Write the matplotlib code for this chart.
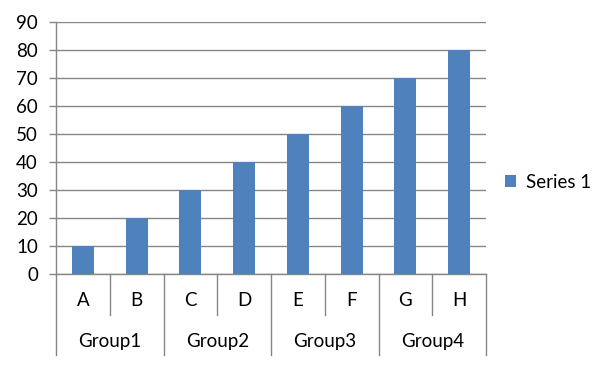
import matplotlib
matplotlib.use("Agg")
import matplotlib.pyplot as plt
import matplotlib.transforms as mtransforms

categories = ["A", "B", "C", "D", "E", "F", "G", "H"]
groups = ["Group1", "Group2", "Group3", "Group4"]
values = [10, 20, 30, 40, 50, 60, 70, 80]
series_name = "Series 1"
yticks = [0, 10, 20, 30, 40, 50, 60, 70, 80, 90]

plt.rcParams['font.family'] = ['Lato', 'DejaVu Sans']
FS = 13.5
fig = plt.figure(figsize=(6.02, 3.72), dpi=100)
W, H = 602, 372
left, right, top, bottom = 56, 486, 22, 274
ax = fig.add_axes([left / W, 1 - bottom / H, (right - left) / W, (bottom - top) / H])

grid_c = "#868686"
bar_c = "#4F81BD"
x = list(range(len(categories)))
ax.bar(x, values, width=0.41, color=bar_c, label=series_name, zorder=3)
ax.set_xlim(-0.5, len(categories) - 0.5)
ax.set_ylim(0, 90)
ax.set_yticks(yticks)
ax.set_yticklabels([str(v) for v in yticks], fontsize=FS)
ax.yaxis.grid(True, color=grid_c, linewidth=1, zorder=0)
ax.tick_params(axis='y', length=5, width=1, color=grid_c, pad=8)
ax.set_xticks([])
for s in ["top", "right"]:
    ax.spines[s].set_visible(False)
ax.spines["left"].set_visible(False)
ax.spines["bottom"].set_color(grid_c)
ax.spines["bottom"].set_linewidth(1)

trans = mtransforms.blended_transform_factory(ax.transData, ax.transAxes)
ph = bottom - top
inner_y = -(315 - bottom) / ph
outer_y = -(355 - bottom) / ph
ax.plot([-0.5, -0.5], [1, outer_y], transform=trans, color=grid_c, lw=1, clip_on=False, zorder=4)
n_per = len(categories) // len(groups)
for i in range(len(categories) + 1):
    b = i - 0.5
    if i % n_per == 0:
        if i != 0:
            ax.plot([b, b], [0, outer_y], transform=trans, color=grid_c, lw=1, clip_on=False)
    else:
        ax.plot([b, b], [0, inner_y], transform=trans, color=grid_c, lw=1, clip_on=False)

cat_y = -(300 - bottom) / ph
grp_y = -(342 - bottom) / ph
for i, c in enumerate(categories):
    ax.text(i, cat_y, c, transform=trans, ha='center', va='center', fontsize=FS)
for g, name in enumerate(groups):
    xc = g * n_per + (n_per - 1) / 2
    ax.text(xc, grp_y, name, transform=trans, ha='center', va='center', fontsize=FS)

fig.legend(loc='center left', bbox_to_anchor=(505 / W, 1 - 182 / H), frameon=False,
           fontsize=FS, handlelength=0.6, handleheight=0.6, handletextpad=0.5,
           borderpad=0, borderaxespad=0)

fig.savefig("out.png", dpi=100)
